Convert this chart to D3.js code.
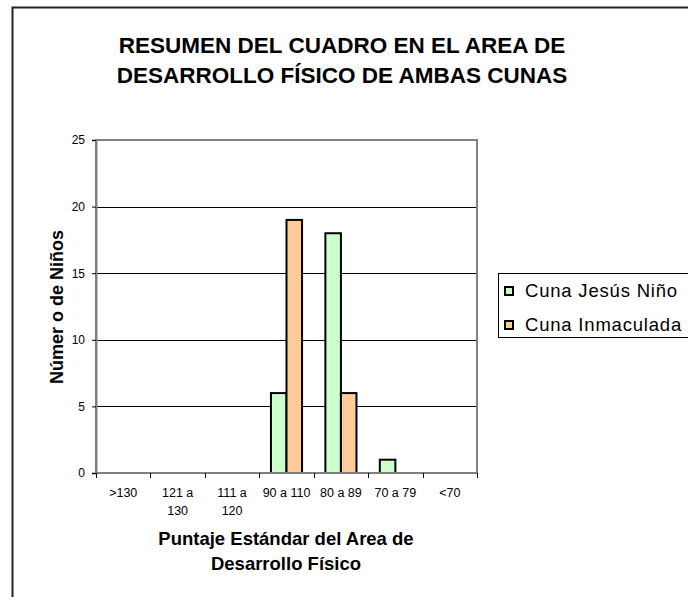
<!DOCTYPE html>
<html><head><meta charset="utf-8">
<script src="https://cdn.jsdelivr.net/npm/d3@7"></script>
<style>body{margin:0;background:#fff;}svg{display:block;font-family:"Liberation Sans",Arial,sans-serif;}</style>
</head><body>
<script>
const categories = [">130", "121 a|130", "111 a|120", "90 a 110", "80 a 89", "70 a 79", "<70"];
const seriesNames = ["Cuna Jesús Niño", "Cuna Inmaculada"];
const jesusNino = [0, 0, 0, 6, 18, 1, 0];
const inmaculada = [0, 0, 0, 19, 6, 0, 0];
const yTicks = [0, 5, 10, 15, 20, 25];
const colors = ["#CCFFCC", "#FFCC99"];
const titleLines = ["RESUMEN DEL CUADRO EN EL AREA DE", "DESARROLLO FÍSICO DE AMBAS CUNAS"];
const xTitleLines = ["Puntaje Estándar del Area de", "Desarrollo Físico"];
const yTitle = "Númer o de Niños";

const W = 688, H = 597;
const svg = d3.select("body").append("svg").attr("width", W).attr("height", H);

// outer frame
svg.append("rect").attr("x", 12.5).attr("y", 7.5).attr("width", 700).attr("height", 620)
  .attr("fill", "#fff").attr("stroke", "#222").attr("stroke-width", 2);

const L = 96, R = 477, T = 140, B = 473;
const x = d3.scaleBand().domain(categories).range([L, R]).paddingInner(0).paddingOuter(0);
const y = d3.scaleLinear().domain([0, 25]).range([B, T]);
const barW = x.bandwidth() / 3.5;
const x1 = d3.scaleBand().domain([0, 1]).range([0, barW * 2]);

// gridlines
svg.append("g").selectAll("line").data(yTicks.filter(d => d > 0 && d < 25)).join("line")
  .attr("x1", L).attr("x2", R).attr("y1", d => Math.round(y(d)) + 0.5).attr("y2", d => Math.round(y(d)) + 0.5)
  .attr("stroke", "#000").attr("stroke-width", 1);

// plot border
svg.append("rect").attr("x", L).attr("y", T).attr("width", R - L).attr("height", B - T)
  .attr("fill", "none").attr("stroke", "#808080").attr("stroke-width", 2);

// bars
const data = [jesusNino, inmaculada];
data.forEach((vals, si) => {
  svg.append("g").selectAll("rect").data(vals.map((v, i) => ({v, c: categories[i]})).filter(d => d.v > 0)).join("rect")
    .attr("x", d => x(d.c) + (x.bandwidth() - barW * 2) / 2 + x1(si))
    .attr("y", d => y(d.v))
    .attr("width", barW)
    .attr("height", d => B - y(d.v))
    .attr("fill", colors[si]).attr("stroke", "#000").attr("stroke-width", 2);
});

// y axis
const yAxis = svg.append("g").attr("transform", `translate(${L},0)`)
  .call(d3.axisLeft(y).tickValues(yTicks).tickSize(4).tickPadding(7));
yAxis.select(".domain").attr("stroke", "#808080").attr("stroke-width", 2);
yAxis.selectAll(".tick line").attr("stroke", "#000");
yAxis.selectAll("text").attr("font-size", 12).attr("font-family", "Liberation Sans, Arial, sans-serif").attr("fill", "#000");

// x axis
const xAxis = svg.append("g").attr("transform", `translate(0,${B})`);
xAxis.append("line").attr("x1", L).attr("x2", R).attr("y1", 0).attr("y2", 0).attr("stroke", "#808080").attr("stroke-width", 2);
const boundaries = categories.map(c => x(c)).concat([R]);
xAxis.selectAll("line.tk").data(boundaries).join("line").attr("class", "tk")
  .attr("x1", d => Math.round(d) + 0.5).attr("x2", d => Math.round(d) + 0.5).attr("y1", 0).attr("y2", 5).attr("stroke", "#000");
xAxis.selectAll("text.lbl").data(categories).join("text").attr("class", "lbl")
  .attr("x", d => x(d) + x.bandwidth() / 2).attr("y", 23.5)
  .attr("text-anchor", "middle").attr("font-size", 12.5).attr("fill", "#000")
  .each(function(d) {
    const parts = d.split("|");
    d3.select(this).selectAll("tspan").data(parts).join("tspan")
      .attr("x", x(d) + x.bandwidth() / 2).attr("dy", (p, i) => i === 0 ? 0 : 18).text(p => p);
  });

// title
svg.append("text").attr("x", 342).attr("y", 53).attr("text-anchor", "middle")
  .attr("font-size", 22.5).attr("font-weight", "bold").attr("fill", "#000")
  .selectAll("tspan").data(titleLines).join("tspan").attr("x", 342).attr("dy", (d, i) => i ? 30 : 0).text(d => d);

// x title
svg.append("text").attr("x", 286).attr("y", 545).attr("text-anchor", "middle")
  .attr("font-size", 18.5).attr("font-weight", "bold").attr("fill", "#000")
  .selectAll("tspan").data(xTitleLines).join("tspan").attr("x", 286).attr("dy", (d, i) => i ? 25 : 0).text(d => d);

// y title
svg.append("text").attr("transform", "translate(63,307) rotate(-90)").attr("text-anchor", "middle")
  .attr("font-size", 18).attr("font-weight", "bold").attr("fill", "#000").text(yTitle);

// legend
const lg = svg.append("g");
lg.append("rect").attr("x", 498.5).attr("y", 273.5).attr("width", 300).attr("height", 64)
  .attr("fill", "#fff").attr("stroke", "#000").attr("stroke-width", 1);
seriesNames.forEach((n, i) => {
  const cy = 291 + i * 34;
  lg.append("rect").attr("x", 505).attr("y", cy - 4).attr("width", 8).attr("height", 8)
    .attr("fill", colors[i]).attr("stroke", "#000").attr("stroke-width", 2);
  lg.append("text").attr("x", 525).attr("y", cy + 6).attr("font-size", 18.5).attr("letter-spacing", 0.8)
    .attr("fill", "#000").text(n);
});
</script>
</body></html>
